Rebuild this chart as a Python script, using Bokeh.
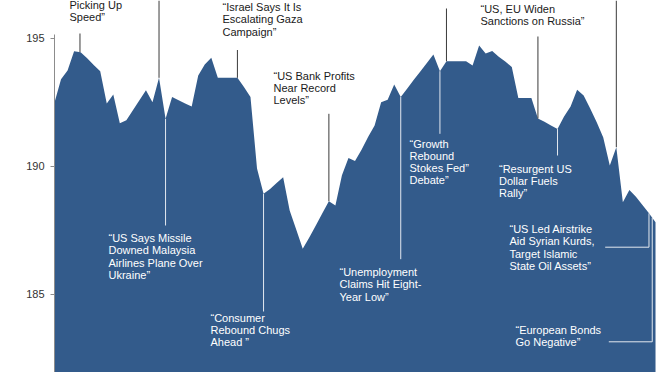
from bokeh.plotting import figure
from bokeh.models import ColumnDataSource, FixedTicker, Range1d
from bokeh.core.properties import value
from bokeh.embed import file_html
from bokeh.resources import INLINE
import numpy as np

# ---------------- data ----------------
days = list(range(93))
prices = [
    192.49, 193.39, 193.74, 194.49, 194.45, 194.21, 193.95, 193.71, 192.45, 192.80,
    191.68, 191.79, 192.18, 192.57, 192.96, 192.50, 193.45, 191.85, 192.70, 192.57,
    192.45, 192.33, 193.54, 193.97, 194.23, 193.45, 193.45, 193.45, 193.45, 193.09,
    192.70, 189.91, 188.92, 189.11, 189.34, 189.57, 188.27, 187.53, 186.77, 187.21,
    187.68, 188.16, 188.63, 188.46, 189.64, 190.32, 190.20, 190.64, 191.14, 191.59,
    192.50, 192.59, 193.19, 192.70, 193.03, 193.37, 193.70, 194.03, 194.36, 193.71,
    194.10, 194.10, 194.10, 194.10, 193.93, 194.71, 194.40, 194.50, 194.27, 194.09,
    193.87, 192.66, 192.66, 192.66, 191.86, 191.73, 191.59, 191.45, 191.94, 192.33,
    192.98, 192.76, 192.25, 191.71, 191.12, 190.03, 190.74, 188.59, 189.07, 188.80,
    188.48, 188.16, 187.81,
]
y_ticks = [185, 190, 195]

# annotation texts
dark_notes = [
    ["Picking Up", "Speed\u201d"],
    ["\u201cIsrael Says It Is", "Escalating Gaza", "Campaign\u201d"],
    ["\u201cUS Bank Profits", "Near Record", "Levels\u201d"],
    ["\u201cUS, EU Widen", "Sanctions on Russia\u201d"],
]
light_notes = [
    ["\u201cUS Says Missile", "Downed Malaysia", "Airlines Plane Over", "Ukraine\u201d"],
    ["\u201cConsumer", "Rebound Chugs", "Ahead \u201d"],
    ["\u201cUnemployment", "Claims Hit Eight-", "Year Low\u201d"],
    ["\u201cGrowth", "Rebound", "Stokes Fed\u201d", "Debate\u201d"],
    ["\u201cResurgent US", "Dollar Fuels", "Rally\u201d"],
    ["\u201cUS Led Airstrike", "Aid Syrian Kurds,", "Target Islamic", "State Oil Assets\u201d"],
    ["\u201cEuropean Bonds", "Go Negative\u201d"],
]

# ---------------- layout ----------------
W, H = 672, 372
FRAME_L = 54
X_END = 94.6
Y_LO, Y_HI = 181.94, 196.47
PX_PER_DAY = (W - FRAME_L) / X_END
PX_PER_UNIT = H / (Y_HI - Y_LO)


def dx(px):
    return (px - FRAME_L) / PX_PER_DAY


def vy(py):
    return Y_HI - py / PX_PER_UNIT


def price_at(d):
    return float(np.interp(d, days, prices))


# note positions (left x px, first line centre y px, line step px)
dark_pos = [(69, 4.5, 11.6), (222, 6.3, 12.35), (273, 75.3, 12.2), (480, 8.2, 12.0)]
light_pos = [(108, 237.6, 12.35), (210, 317.3, 12.3), (339, 271.4, 12.4),
             (409, 143.0, 12.3), (498.5, 168.0, 12.3), (509, 228.4, 12.5), (515, 329.3, 11.8)]

# marker lines: (day, free end y px)
dark_marks = [(3.9, 33), (16, 0), (28, 49.5), (42, 113.3), (60, 8), (74, 36), (86, 0)]
light_marks = [(17, 225), (32, 311), (53, 258.7), (59, 133.3), (77, 155), (91, 246.7), (91.5, 341.3)]
light_elbows = [(604.7, 91, 246.7), (608.3, 91.5, 341.3)]

p = figure(width=W, height=H, x_range=Range1d(0, X_END), y_range=Range1d(Y_LO, Y_HI),
           output_backend="svg", toolbar_location=None, x_axis_location=None,
           min_border_left=FRAME_L, min_border_right=0, min_border_top=0, min_border_bottom=0,
           outline_line_color=None, background_fill_color="white", border_fill_color="white")
p.grid.visible = False

src = ColumnDataSource(dict(x=days, y=prices, base=[Y_LO - 5] * len(days)))
p.varea(x="x", y1="base", y2="y", source=src, fill_color="#335b8b")

# marker lines
def mark_source(marks, elbows=()):
    x0, y0, x1, y1 = [], [], [], []
    for d, py in marks:
        x0.append(d); y0.append(price_at(d)); x1.append(d); y1.append(vy(py))
    for pxa, d, py in elbows:
        x0.append(dx(pxa)); y0.append(vy(py)); x1.append(d); y1.append(vy(py))
    return ColumnDataSource(dict(x0=x0, y0=y0, x1=x1, y1=y1))

p.segment(x0="x0", y0="y0", x1="x1", y1="y1", source=mark_source(dark_marks),
          line_color="#3a3a3a", line_width=1)
p.segment(x0="x0", y0="y0", x1="x1", y1="y1", source=mark_source(light_marks, light_elbows),
          line_color="#e4e9f0", line_width=1)


def text_source(notes, pos):
    xs, ys, ts = [], [], []
    for lines, (pxl, py0, step) in zip(notes, pos):
        for i, t in enumerate(lines):
            xs.append(dx(pxl)); ys.append(vy(py0 + i * step)); ts.append(t)
    return ColumnDataSource(dict(x=xs, y=ys, t=ts))

for notes, pos, col in ((dark_notes, dark_pos, "#1a1a1a"), (light_notes, light_pos, "#ffffff")):
    p.text(x="x", y="y", text="t", source=text_source(notes, pos),
           text_font=value("Liberation Sans"), text_font_size=value("11px"),
           text_color=col, text_align="left", text_baseline="middle")

ax = p.yaxis[0]
ax.ticker = FixedTicker(ticks=y_ticks)
ax.bounds = (170, 195.15)
ax.axis_line_color = "#8c8c8c"
ax.major_tick_line_color = "#8c8c8c"
ax.major_tick_in = 0
ax.major_tick_out = 4
ax.minor_tick_line_color = None
ax.major_label_text_font = "Liberation Sans"
ax.major_label_text_font_size = "11px"
ax.major_label_text_color = "#333333"
ax.major_label_standoff = 6

open("out.html", "w").write(file_html(p, INLINE))
